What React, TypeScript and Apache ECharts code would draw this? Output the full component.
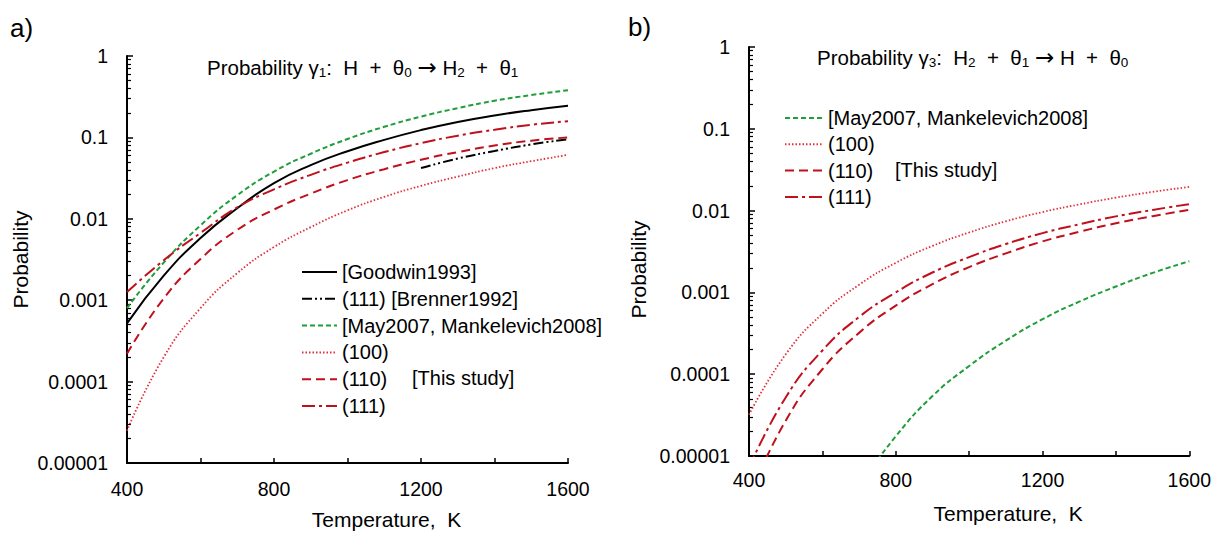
import React, { useEffect, useRef } from 'react';
import * as echarts from 'echarts';

// ---------- Data ----------
// Panel a) gamma1 : H + theta0 -> H2 + theta1
const tempA = [400, 500, 600, 700, 800, 900, 1000, 1100, 1200, 1300, 1400, 1500, 1600];
const goodwinA = [0.00052, 0.002, 0.0058, 0.0135, 0.0275, 0.0457, 0.0676, 0.0933, 0.123, 0.155, 0.186, 0.216, 0.245];
const mayA = [0.0008, 0.0029, 0.0083, 0.0195, 0.038, 0.063, 0.0955, 0.135, 0.18, 0.229, 0.282, 0.331, 0.38];
const s100A = [0.000025, 0.0002, 0.0008, 0.00215, 0.0045, 0.0079, 0.0127, 0.0186, 0.0254, 0.033, 0.042, 0.051, 0.061];
const s110A = [0.00022, 0.00105, 0.0032, 0.0073, 0.013, 0.0204, 0.0299, 0.0407, 0.0531, 0.066, 0.0794, 0.0912, 0.1];
const s111A = [0.00126, 0.0031, 0.0067, 0.0138, 0.023, 0.0347, 0.049, 0.066, 0.085, 0.105, 0.124, 0.143, 0.158];
const tempBrenner = [1200, 1300, 1400, 1500, 1600];
const brennerA = [0.042, 0.055, 0.068, 0.082, 0.095];

// Panel b) gamma3 : H2 + theta1 -> H + theta0
const tempB = [400, 500, 600, 700, 800, 900, 1000, 1100, 1200, 1300, 1400, 1500, 1600];
const s100B = [0.000032, 0.000175, 0.00055, 0.00124, 0.0023, 0.0037, 0.0054, 0.0074, 0.0096, 0.0119, 0.0144, 0.0169, 0.0195];
const s110B = [0.0000032, 0.000027, 0.000115, 0.00032, 0.00069, 0.00126, 0.00204, 0.003, 0.0042, 0.0055, 0.007, 0.00855, 0.0102];
const s111B = [0.0000072, 0.000052, 0.000195, 0.0005, 0.001, 0.00175, 0.0027, 0.0039, 0.0053, 0.0068, 0.0085, 0.0102, 0.012];
const tempMayB = [700, 800, 900, 1000, 1100, 1200, 1300, 1400, 1500, 1600];
const mayB = [0.0000043, 0.0000174, 0.000054, 0.000126, 0.000257, 0.00047, 0.00077, 0.00118, 0.00173, 0.0024];

// Tick labels
const yTickLabels = ['0.00001', '0.0001', '0.001', '0.01', '0.1', '1'];
const xTickLabels = ['400', '800', '1200', '1600'];
const minorMantissas = [2, 3, 4, 5, 6, 7, 8, 9];
const decadeExps = [-5, -4, -3, -2, -1];

// Legend names
const N_GOODWIN = '[Goodwin1993]';
const N_BRENNER = '(111) [Brenner1992]';
const N_MAY = '[May2007, Mankelevich2008]';
const N_100 = '(100)';
const N_110 = '(110)';
const N_111 = '(111)';

const FONT = '"Liberation Sans", Arial, Helvetica, sans-serif';
const GREEN = '#1f9e3a';
const RED_DOT = '#e0303c';
const DARK_RED = '#c0101c';

function pairs(xs: number[], ys: number[]) {
  return xs.map((x, i) => [x, ys[i]]);
}

const minorLogTicks: number[] = [];
decadeExps.forEach((e) => minorMantissas.forEach((m) => minorLogTicks.push(e + Math.log10(m))));

function lineSeries(name: string, axis: number, data: number[][], color: string, type: any, width: number) {
  return {
    type: 'line',
    name,
    xAxisIndex: axis,
    yAxisIndex: axis * 2,
    data,
    symbol: 'none',
    smooth: 0.5,
    clip: true,
    silent: true,
    lineStyle: { color, width, type },
    itemStyle: { color },
  };
}

function xAxisFor(gridIndex: number, nameGap: number, labelMargin: number) {
  return {
    type: 'value',
    gridIndex,
    min: 400,
    max: 1600,
    interval: 200,
    name: 'Temperature,  K',
    nameLocation: 'middle',
    nameGap,
    nameTextStyle: { fontSize: 21, fontFamily: FONT, color: '#000', padding: [0, 0, 0, 78] },
    axisLine: { show: true, onZero: false, lineStyle: { color: '#000', width: 2 } },
    axisTick: { show: true, inside: true, length: 5, lineStyle: { color: '#000', width: 1.5 } },
    splitLine: { show: false },
    axisLabel: {
      margin: labelMargin,
      fontSize: 19.5,
      fontFamily: FONT,
      color: '#000',
      formatter: (v: number) => (xTickLabels.includes(String(v)) ? String(v) : ''),
    },
  };
}

function yLogAxis(gridIndex: number, nameGap: number, padding: number[]) {
  return {
    type: 'log',
    gridIndex,
    logBase: 10,
    min: 0.00001,
    max: 1,
    name: 'Probability',
    nameLocation: 'middle',
    nameGap,
    nameTextStyle: { fontSize: 21, fontFamily: FONT, color: '#000', padding },
    axisLine: { show: true, lineStyle: { color: '#000', width: 2 } },
    axisTick: { show: true, inside: true, length: 6, lineStyle: { color: '#000', width: 1.5 } },
    splitLine: { show: false },
    minorTick: { show: false },
    axisLabel: {
      margin: 19,
      fontSize: 19.5,
      fontFamily: FONT,
      color: '#000',
      formatter: (v: number) => yTickLabels[Math.round(Math.log10(v)) + 5] ?? '',
    },
  };
}

function yMinorAxis(gridIndex: number) {
  return {
    type: 'value',
    gridIndex,
    min: -5,
    max: 0,
    position: 'left',
    axisLine: { show: false },
    axisLabel: { show: false },
    splitLine: { show: false },
    axisTick: {
      show: true,
      inside: true,
      length: 4,
      customValues: minorLogTicks,
      lineStyle: { color: '#000', width: 1.2 },
    },
  };
}

function titleRich(parts: string) {
  return {
    text: parts,
    padding: 0,
    textStyle: {
      fontWeight: 'normal',
      rich: {
        n: { fontSize: 20.5, fontFamily: FONT, fontWeight: 'normal', color: '#000', lineHeight: 24, verticalAlign: 'middle' },
        a: { fontSize: 23, fontFamily: '"DejaVu Sans", sans-serif', fontWeight: 'normal', color: '#000', lineHeight: 24, verticalAlign: 'middle' },
        s: { fontSize: 13.5, fontFamily: FONT, fontWeight: 'normal', color: '#000', lineHeight: 10, verticalAlign: 'bottom' },
      },
    },
  };
}

const legendCommon = {
  orient: 'vertical',
  itemHeight: 14,
  padding: 0,
  selectedMode: false,
  itemStyle: { opacity: 0, borderWidth: 0 },
  textStyle: { fontSize: 20, fontFamily: FONT, color: '#000', lineHeight: 20 },
};

const option: any = {
  animation: false,
  backgroundColor: '#fff',
  grid: [
    { left: 127, top: 56, width: 441, height: 408 },
    { left: 749, top: 47, width: 441, height: 409 },
  ],
  title: [
    {
      ...titleRich('{n|Probability γ}{s|1}{n|:  H  +  θ}{s|0}{n| }{a|→}{n| H}{s|2}{n|  +  θ}{s|1}'),
      left: 207,
      top: 55,
    },
    {
      ...titleRich('{n|Probability γ}{s|3}{n|:  H}{s|2}{n|  +  θ}{s|1}{n| }{a|→}{n| H  +  θ}{s|0}'),
      left: 817,
      top: 45,
    },
  ],
  legend: [
    {
      ...legendCommon,
      left: 301,
      top: 262,
      itemWidth: 35,
      itemGap: 6.8,
      data: [N_GOODWIN, N_BRENNER, N_MAY, N_100, N_110, N_111],
    },
    {
      ...legendCommon,
      left: 784,
      top: 108,
      itemWidth: 38,
      itemGap: 6.3,
      data: [N_MAY, N_100, N_110, N_111],
    },
  ],
  xAxis: [xAxisFor(0, 46, 16), xAxisFor(1, 47, 14)],
  yAxis: [yLogAxis(0, 96, [0, 0, 0, 0]), yMinorAxis(0), yLogAxis(1, 100, [0, 36, 0, 0]), yMinorAxis(1)],
  graphic: [
    { type: 'text', left: 10, top: 15, style: { text: 'a)', fontSize: 26, fontFamily: FONT, fill: '#000' } },
    { type: 'text', left: 628, top: 14, style: { text: 'b)', fontSize: 26, fontFamily: FONT, fill: '#000' } },
    { type: 'text', left: 412, top: 368, style: { text: '[This study]', fontSize: 20, fontFamily: FONT, fill: '#000' } },
    { type: 'text', left: 895, top: 160, style: { text: '[This study]', fontSize: 20, fontFamily: FONT, fill: '#000' } },
  ],
  series: [
    lineSeries(N_GOODWIN, 0, pairs(tempA, goodwinA), '#000', 'solid', 2),
    lineSeries(N_BRENNER, 0, pairs(tempBrenner, brennerA), '#000', [10, 3, 2, 3, 2, 3], 2),
    lineSeries(N_MAY, 0, pairs(tempA, mayA), GREEN, [5, 3], 2),
    lineSeries(N_100, 0, pairs(tempA, s100A), RED_DOT, [1.5, 2], 1.8),
    lineSeries(N_110, 0, pairs(tempA, s110A), DARK_RED, [9, 5], 2),
    lineSeries(N_111, 0, pairs(tempA, s111A), DARK_RED, [13, 4, 3, 4], 2),
    lineSeries(N_MAY, 1, pairs(tempMayB, mayB), GREEN, [5, 3], 2),
    lineSeries(N_100, 1, pairs(tempB, s100B), RED_DOT, [1.5, 2], 1.8),
    lineSeries(N_110, 1, pairs(tempB, s110B), DARK_RED, [9, 5], 2),
    lineSeries(N_111, 1, pairs(tempB, s111B), DARK_RED, [13, 4, 3, 4], 2),
  ],
};

export default function App() {
  const ref = useRef<HTMLDivElement>(null);
  useEffect(() => {
    if (!ref.current) return;
    const chart = echarts.init(ref.current, undefined, { renderer: 'svg' });
    chart.setOption(option);
    return () => chart.dispose();
  }, []);
  return (
    <div
      ref={ref}
      style={{ position: 'absolute', left: 0, top: 0, width: 1214, height: 535, background: '#fff' }}
    />
  );
}
